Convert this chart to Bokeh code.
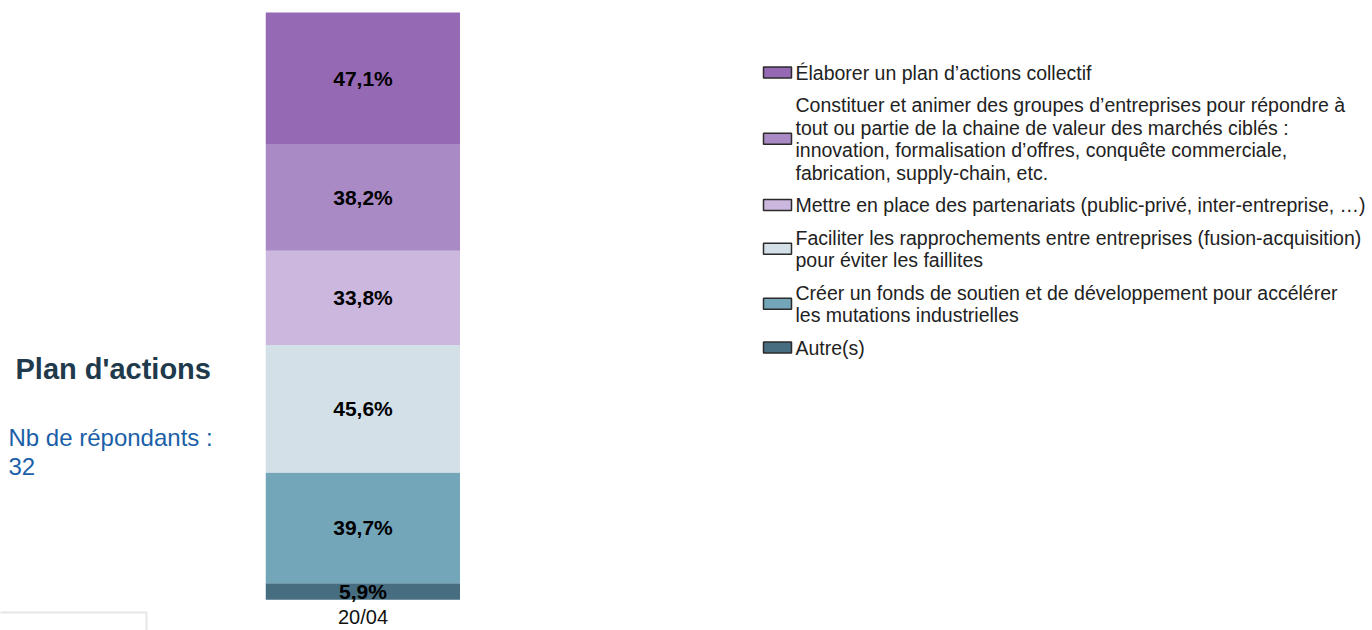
from bokeh.plotting import figure
from bokeh.layouts import row
from bokeh.models import ColumnDataSource, Range1d, FactorRange
from bokeh.core.properties import value
from bokeh.embed import file_html
from bokeh.resources import INLINE

# ---- data ----
period = ["20/04"]
categories = [
    "Élaborer un plan d’actions collectif",
    "Constituer et animer des groupes d’entreprises pour répondre à\n"
    "tout ou partie de la chaine de valeur des marchés ciblés :\n"
    "innovation, formalisation d’offres, conquête commerciale,\n"
    "fabrication, supply-chain, etc.",
    "Mettre en place des partenariats (public-privé, inter-entreprise, …)",
    "Faciliter les rapprochements entre entreprises (fusion-acquisition)\n"
    "pour éviter les faillites",
    "Créer un fonds de soutien et de développement pour accélérer\n"
    "les mutations industrielles",
    "Autre(s)",
]
percentages = [47.1, 38.2, 33.8, 45.6, 39.7, 5.9]
colors = ["#9569b3", "#aa8ac4", "#ccb7de", "#d3e0e8", "#74a6b9", "#466d80"]
title_text = "Plan d'actions"
respondents_label = "Nb de répondants :"
respondents = 32

FONT = value("Liberation Sans")
W, H = 1372, 630
LEFT_W, BAR_W = 265, 195
LEG_W = W - LEFT_W - BAR_W
BAR_TOP, BAR_BOTTOM = 12.0, 599.3   # pixel rows of the bar's top and baseline


def pixel_panel(width):
    f = figure(width=width, height=H, x_range=Range1d(0, width), y_range=Range1d(H, 0),
               output_backend="svg", toolbar_location=None,
               x_axis_location=None, y_axis_location=None,
               min_border=0, outline_line_color=None)
    f.grid.visible = False
    return f


# ---- left panel ----
left = pixel_panel(LEFT_W)
left.text(x=[15], y=[368], text=[title_text], text_font=FONT, text_font_size="29px",
          text_font_style="bold", text_color="#1e3a4c", text_baseline="middle")
left.text(x=[8, 8], y=[437, 466], text=[respondents_label, str(respondents)], text_font=FONT,
          text_font_size="24px", text_color="#1b5fa8", text_baseline="middle")
left.quad(left=[-10], right=[146], top=[612], bottom=[700], fill_color=None,
          line_color="#e6e6e6", line_width=2)

# ---- bar ----
stack_keys = [f"s{i}" for i in range(len(percentages))]
data = {"x": period}
for k, v in zip(stack_keys, percentages):
    data[k] = [v]
src = ColumnDataSource(data)
total = sum(percentages)
ppu = (BAR_BOTTOM - BAR_TOP) / total
y_lo = -(H - BAR_BOTTOM) / ppu
y_hi = total + BAR_TOP / ppu

bar = figure(width=BAR_W, height=H, x_range=FactorRange(factors=period, range_padding=0),
             y_range=Range1d(y_lo, y_hi), output_backend="svg", toolbar_location=None,
             x_axis_location=None, y_axis_location=None, min_border=0,
             outline_line_color=None)
bar.grid.visible = False
bar.vbar_stack(stack_keys[::-1], x="x", width=1.0, fill_color=colors[::-1],
               line_color=None, source=src)
centers = []
acc = 0.0
for v in percentages[::-1]:
    centers.append(acc + v / 2)
    acc += v
labels = [f"{v:.1f}".replace(".", ",") + "%" for v in percentages[::-1]]
bar.text(x=period * len(labels), y=centers, text=labels, text_font=FONT,
         text_font_size="21px", text_font_style="bold", text_color="#000000",
         text_align="center", text_baseline="middle")
# category label under the bar
bar.text(x=period, y=[-(616 - BAR_BOTTOM) / ppu], text=period, text_font=FONT,
         text_font_size="20px", text_color="#111111", text_align="center",
         text_baseline="middle")

# ---- legend panel ----
leg = pixel_panel(LEG_W)
line_h = 22.5
gap = 10.0
y = 72.0
sw_y, tx, ty, tt = [], [], [], []
for cat in categories:
    lines = cat.split("\n")
    ys = []
    for ln in lines:
        ys.append(y)
        tx.append(335)
        ty.append(y)
        tt.append(ln)
        y += line_h
    y += gap
    sw_y.append(sum(ys) / len(ys))
leg.rect(x=[317] * len(sw_y), y=sw_y, width=28, height=11, fill_color=colors,
         line_color="#2b2b2b", line_width=1.5)
leg.text(x=tx, y=ty, text=tt, text_font=FONT, text_font_size="19.5px",
         text_color="#222222", text_baseline="middle", text_align="left")

p = row(left, bar, leg)
open("out.html", "w").write(file_html(p, INLINE))
